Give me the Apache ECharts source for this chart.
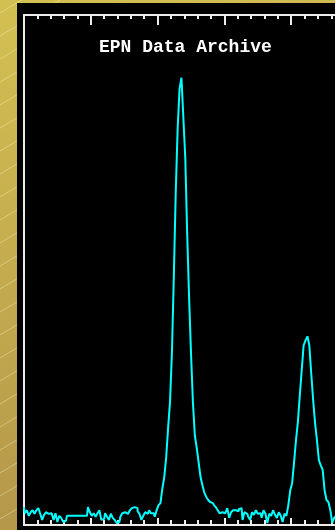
<!DOCTYPE html>
<html>
<head>
<meta charset="utf-8">
<script src="https://cdn.jsdelivr.net/npm/echarts@6/dist/echarts.min.js"></script>
<style>
  html, body { margin: 0; padding: 0; background: #c4aa4c; overflow: hidden; }
  #chart { width: 335px; height: 530px; }
</style>
</head>
<body>
<div id="chart"></div>
<script>
// Spectrum counts, one value per channel (arbitrary intensity units, 0-100 full scale)
const counts = [
  3.5, 2.3, 2.9, 1.8, 2.5, 2.9, 2.2, 2.9, 3.3, 2.2,
  1.0, 2.0, 2.5, 2.2, 2.3, 2.0, 1.0, 2.3, 0.6, 1.8,
  1.4, 0.6, 0.8, 1.8, 1.8, 1.8, 1.8, 1.8, 1.8, 1.8,
  1.8, 1.8, 1.8, 1.8, 3.5, 2.5, 1.8, 2.3, 1.6, 2.3,
  2.9, 1.0, 1.2, 2.3, 1.6, 1.0, 2.2, 1.4, 1.0, 0.4,
  0.6, 1.6, 2.3, 2.5, 2.2, 2.5, 2.9, 3.3, 3.5, 3.3,
  2.7, 2.2, 1.0, 1.8, 2.5, 2.2, 2.9, 2.3, 2.3, 1.6,
  2.9, 3.9, 4.3, 7.2, 9.4, 13.3, 19.0, 24.1, 33.7, 48.7,
  65.2, 77.7, 85.5, 87.7, 79.8, 72.0, 57.1, 44.6, 33.7, 24.1,
  17.6, 15.1, 12.3, 9.4, 7.8, 6.3, 5.5, 4.9, 4.5, 4.3,
  3.9, 3.5, 2.9, 2.3, 2.5, 2.3, 2.5, 3.3, 1.4, 2.5,
  2.9, 2.9, 2.7, 3.1, 3.3, 1.0, 2.5, 2.2, 1.6, 1.0,
  2.5, 2.0, 2.9, 2.2, 2.3, 1.4, 2.9, 2.2, 0.4, 2.2,
  1.8, 2.9, 2.0, 1.4, 2.5, 1.8, 0.6, 2.2, 1.8, 3.9,
  6.8, 8.2, 12.3, 16.6, 20.2, 25.4, 30.3, 35.2, 36.2, 37.0,
  35.2, 29.7, 24.5, 20.0, 16.6, 12.7, 11.7, 10.8, 6.8, 4.9,
  4.5, 2.9, 0.4, 1.4, 1.8, 2.2
];

// Channel axis: 175 channels across the frame, major tick every 35, minor every 7
const channelMin = 0;
const channelMax = 175;
const channelMajor = 35;
const countMax = 100;
const titleText = 'EPN Data Archive';

const series = counts.map((v, i) => [i, v]);

// Woven backdrop: faint diagonal threads behind the black panel
const threads = [];
for (let y0 = -10; y0 < 600; y0 += 23) {
  threads.push({
    type: 'line',
    z: -6,
    silent: true,
    shape: { x1: 0, y1: y0, x2: 60, y2: y0 - 36 },
    style: { stroke: 'rgba(255,250,205,0.38)', lineWidth: 1 }
  });
}

const frameColor = '#ececec';
function channelAxis(position, majorLen, minorLen) {
  return {
    type: 'value',
    position: position,
    min: channelMin,
    max: channelMax,
    interval: channelMajor,
    axisLine: { show: true, lineStyle: { color: frameColor, width: 2 } },
    axisTick: { show: true, inside: true, length: majorLen, lineStyle: { color: frameColor, width: 2 } },
    minorTick: { show: true, splitNumber: 5, length: minorLen, lineStyle: { color: frameColor, width: 2 } },
    axisLabel: { show: false },
    splitLine: { show: false }
  };
}

const chart = echarts.init(document.getElementById('chart'), null, { renderer: 'canvas' });
chart.setOption({
  animation: false,
  backgroundColor: {
    type: 'linear', x: 0, y: 0, x2: 0.3, y2: 1,
    colorStops: [
      { offset: 0, color: '#d3c052' },
      { offset: 1, color: '#b4964a' }
    ]
  },
  title: {
    text: titleText,
    left: 94,
    top: 33,
    textStyle: {
      color: '#ffffff',
      fontFamily: 'Liberation Mono',
      fontWeight: 'bold',
      fontSize: 18
    }
  },
  graphic: threads.concat([
    {
      type: 'rect',
      z: -5,
      silent: true,
      shape: { x: 17, y: 3, width: 400, height: 600 },
      style: { fill: '#000000' }
    }
  ]),
  // the frame runs past the right edge of the view, so the grid may not be clamped
  grid: { left: 24, top: 15, width: 334, bottom: 5, outerBoundsMode: 'none', containLabel: false },
  xAxis: [
    channelAxis('bottom', 7, 5),
    channelAxis('top', 10, 4)
  ],
  yAxis: {
    type: 'value',
    min: 0,
    max: countMax,
    axisLine: { show: true, lineStyle: { color: frameColor, width: 2 } },
    axisTick: { show: false },
    axisLabel: { show: false },
    splitLine: { show: false }
  },
  series: [{
    type: 'line',
    step: 'middle',
    data: series,
    showSymbol: false,
    lineStyle: { color: '#00ffff', width: 2 },
    z: 3
  }]
});
</script>
</body>
</html>
